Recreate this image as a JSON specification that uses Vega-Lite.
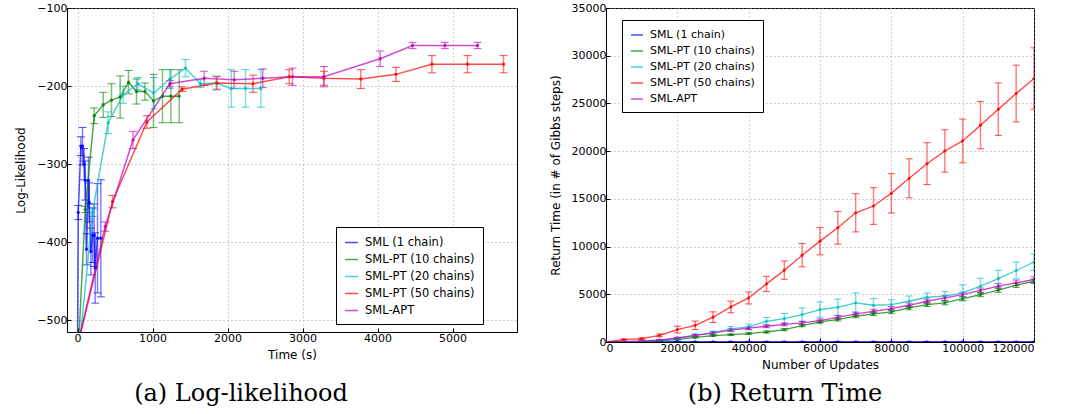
{
  "$schema": "https://vega.github.io/schema/vega-lite/v6.json",
  "padding": {"left": 14, "top": 1, "right": 5, "bottom": 2},
  "spacing": 30,
  "background": "white",
  "datasets": {
    "ll": [
      {"series": "SML (1 chain)", "time": 0, "loglik": -540, "err": 0},
      {"series": "SML (1 chain)", "time": 10, "loglik": -362, "err": 9},
      {"series": "SML (1 chain)", "time": 45, "loglik": -277, "err": 12},
      {"series": "SML (1 chain)", "time": 67, "loglik": -277, "err": 24},
      {"series": "SML (1 chain)", "time": 89, "loglik": -300, "err": 20},
      {"series": "SML (1 chain)", "time": 103, "loglik": -321, "err": 25},
      {"series": "SML (1 chain)", "time": 120, "loglik": -409, "err": 20},
      {"series": "SML (1 chain)", "time": 147, "loglik": -321, "err": 30},
      {"series": "SML (1 chain)", "time": 156, "loglik": -349, "err": 25},
      {"series": "SML (1 chain)", "time": 178, "loglik": -412, "err": 30},
      {"series": "SML (1 chain)", "time": 200, "loglik": -391, "err": 35},
      {"series": "SML (1 chain)", "time": 222, "loglik": -391, "err": 40},
      {"series": "SML (1 chain)", "time": 236, "loglik": -433, "err": 45},
      {"series": "SML (1 chain)", "time": 267, "loglik": -395, "err": 70},
      {"series": "SML (1 chain)", "time": 311, "loglik": -395, "err": 75},
      {"series": "SML-PT (10 chains)", "time": 0, "loglik": -560, "err": 0},
      {"series": "SML-PT (10 chains)", "time": 103, "loglik": -358, "err": 4},
      {"series": "SML-PT (10 chains)", "time": 223, "loglik": -238, "err": 10},
      {"series": "SML-PT (10 chains)", "time": 343, "loglik": -224, "err": 16},
      {"series": "SML-PT (10 chains)", "time": 453, "loglik": -218, "err": 21},
      {"series": "SML-PT (10 chains)", "time": 569, "loglik": -214, "err": 27},
      {"series": "SML-PT (10 chains)", "time": 680, "loglik": -195, "err": 15},
      {"series": "SML-PT (10 chains)", "time": 787, "loglik": -207, "err": 16},
      {"series": "SML-PT (10 chains)", "time": 899, "loglik": -207, "err": 11},
      {"series": "SML-PT (10 chains)", "time": 1013, "loglik": -219, "err": 34},
      {"series": "SML-PT (10 chains)", "time": 1133, "loglik": -213, "err": 34},
      {"series": "SML-PT (10 chains)", "time": 1245, "loglik": -213, "err": 34},
      {"series": "SML-PT (10 chains)", "time": 1356, "loglik": -213, "err": 34},
      {"series": "SML-PT (20 chains)", "time": 0, "loglik": -560, "err": 0},
      {"series": "SML-PT (20 chains)", "time": 200, "loglik": -362, "err": 5},
      {"series": "SML-PT (20 chains)", "time": 409, "loglik": -247, "err": 14},
      {"series": "SML-PT (20 chains)", "time": 609, "loglik": -211, "err": 11},
      {"series": "SML-PT (20 chains)", "time": 806, "loglik": -197, "err": 8},
      {"series": "SML-PT (20 chains)", "time": 1018, "loglik": -209, "err": 20},
      {"series": "SML-PT (20 chains)", "time": 1231, "loglik": -191, "err": 12},
      {"series": "SML-PT (20 chains)", "time": 1440, "loglik": -177, "err": 11},
      {"series": "SML-PT (20 chains)", "time": 1640, "loglik": -197, "err": 5},
      {"series": "SML-PT (20 chains)", "time": 1850, "loglik": -196, "err": 9},
      {"series": "SML-PT (20 chains)", "time": 2050, "loglik": -203, "err": 24},
      {"series": "SML-PT (20 chains)", "time": 2240, "loglik": -203, "err": 24},
      {"series": "SML-PT (20 chains)", "time": 2445, "loglik": -203, "err": 24},
      {"series": "SML-PT (50 chains)", "time": 0, "loglik": -533, "err": 0},
      {"series": "SML-PT (50 chains)", "time": 467, "loglik": -348, "err": 8},
      {"series": "SML-PT (50 chains)", "time": 925, "loglik": -246, "err": 8},
      {"series": "SML-PT (50 chains)", "time": 1395, "loglik": -204, "err": 3},
      {"series": "SML-PT (50 chains)", "time": 1860, "loglik": -196, "err": 8},
      {"series": "SML-PT (50 chains)", "time": 2340, "loglik": -197, "err": 11},
      {"series": "SML-PT (50 chains)", "time": 2823, "loglik": -188, "err": 9},
      {"series": "SML-PT (50 chains)", "time": 3285, "loglik": -190, "err": 9},
      {"series": "SML-PT (50 chains)", "time": 3778, "loglik": -191, "err": 12},
      {"series": "SML-PT (50 chains)", "time": 4245, "loglik": -185, "err": 9},
      {"series": "SML-PT (50 chains)", "time": 4725, "loglik": -172, "err": 11},
      {"series": "SML-PT (50 chains)", "time": 5200, "loglik": -172, "err": 11},
      {"series": "SML-PT (50 chains)", "time": 5680, "loglik": -172, "err": 11},
      {"series": "SML-APT", "time": 0, "loglik": -532, "err": 0},
      {"series": "SML-APT", "time": 369, "loglik": -380, "err": 6},
      {"series": "SML-APT", "time": 740, "loglik": -269, "err": 11},
      {"series": "SML-APT", "time": 1231, "loglik": -197, "err": 4},
      {"series": "SML-APT", "time": 1689, "loglik": -190, "err": 9},
      {"series": "SML-APT", "time": 2089, "loglik": -192, "err": 11},
      {"series": "SML-APT", "time": 2470, "loglik": -190, "err": 12},
      {"series": "SML-APT", "time": 2867, "loglik": -188, "err": 11},
      {"series": "SML-APT", "time": 3285, "loglik": -188, "err": 13},
      {"series": "SML-APT", "time": 4036, "loglik": -165, "err": 10},
      {"series": "SML-APT", "time": 4467, "loglik": -148, "err": 4},
      {"series": "SML-APT", "time": 4898, "loglik": -148, "err": 4},
      {"series": "SML-APT", "time": 5333, "loglik": -148, "err": 4}
    ],
    "rt": [
      {"series": "SML (1 chain)", "updates": 0, "rt": 0, "err": 0},
      {"series": "SML (1 chain)", "updates": 5000, "rt": 30, "err": 10},
      {"series": "SML (1 chain)", "updates": 10000, "rt": 30, "err": 10},
      {"series": "SML (1 chain)", "updates": 15000, "rt": 30, "err": 10},
      {"series": "SML (1 chain)", "updates": 20000, "rt": 30, "err": 10},
      {"series": "SML (1 chain)", "updates": 25000, "rt": 30, "err": 10},
      {"series": "SML (1 chain)", "updates": 30000, "rt": 30, "err": 10},
      {"series": "SML (1 chain)", "updates": 35000, "rt": 30, "err": 10},
      {"series": "SML (1 chain)", "updates": 40000, "rt": 30, "err": 10},
      {"series": "SML (1 chain)", "updates": 45000, "rt": 30, "err": 10},
      {"series": "SML (1 chain)", "updates": 50000, "rt": 30, "err": 10},
      {"series": "SML (1 chain)", "updates": 55000, "rt": 30, "err": 10},
      {"series": "SML (1 chain)", "updates": 60000, "rt": 30, "err": 10},
      {"series": "SML (1 chain)", "updates": 65000, "rt": 30, "err": 10},
      {"series": "SML (1 chain)", "updates": 70000, "rt": 30, "err": 10},
      {"series": "SML (1 chain)", "updates": 75000, "rt": 30, "err": 10},
      {"series": "SML (1 chain)", "updates": 80000, "rt": 30, "err": 10},
      {"series": "SML (1 chain)", "updates": 85000, "rt": 30, "err": 10},
      {"series": "SML (1 chain)", "updates": 90000, "rt": 30, "err": 10},
      {"series": "SML (1 chain)", "updates": 95000, "rt": 30, "err": 10},
      {"series": "SML (1 chain)", "updates": 100000, "rt": 30, "err": 10},
      {"series": "SML (1 chain)", "updates": 105000, "rt": 30, "err": 10},
      {"series": "SML (1 chain)", "updates": 110000, "rt": 30, "err": 10},
      {"series": "SML (1 chain)", "updates": 115000, "rt": 30, "err": 10},
      {"series": "SML (1 chain)", "updates": 120000, "rt": 30, "err": 10},
      {"series": "SML-PT (10 chains)", "updates": 0, "rt": 0, "err": 0},
      {"series": "SML-PT (10 chains)", "updates": 5000, "rt": 20, "err": 10},
      {"series": "SML-PT (10 chains)", "updates": 10000, "rt": 50, "err": 20},
      {"series": "SML-PT (10 chains)", "updates": 15000, "rt": 120, "err": 30},
      {"series": "SML-PT (10 chains)", "updates": 20000, "rt": 250, "err": 50},
      {"series": "SML-PT (10 chains)", "updates": 25000, "rt": 490, "err": 70},
      {"series": "SML-PT (10 chains)", "updates": 30000, "rt": 670, "err": 80},
      {"series": "SML-PT (10 chains)", "updates": 35000, "rt": 770, "err": 90},
      {"series": "SML-PT (10 chains)", "updates": 40000, "rt": 880, "err": 100},
      {"series": "SML-PT (10 chains)", "updates": 45000, "rt": 1050, "err": 110},
      {"series": "SML-PT (10 chains)", "updates": 50000, "rt": 1300, "err": 120},
      {"series": "SML-PT (10 chains)", "updates": 55000, "rt": 1720, "err": 130},
      {"series": "SML-PT (10 chains)", "updates": 60000, "rt": 2100, "err": 140},
      {"series": "SML-PT (10 chains)", "updates": 65000, "rt": 2350, "err": 150},
      {"series": "SML-PT (10 chains)", "updates": 70000, "rt": 2700, "err": 160},
      {"series": "SML-PT (10 chains)", "updates": 75000, "rt": 2940, "err": 170},
      {"series": "SML-PT (10 chains)", "updates": 80000, "rt": 3150, "err": 180},
      {"series": "SML-PT (10 chains)", "updates": 85000, "rt": 3570, "err": 190},
      {"series": "SML-PT (10 chains)", "updates": 90000, "rt": 3920, "err": 200},
      {"series": "SML-PT (10 chains)", "updates": 95000, "rt": 4100, "err": 200},
      {"series": "SML-PT (10 chains)", "updates": 100000, "rt": 4550, "err": 210},
      {"series": "SML-PT (10 chains)", "updates": 105000, "rt": 4970, "err": 220},
      {"series": "SML-PT (10 chains)", "updates": 110000, "rt": 5430, "err": 230},
      {"series": "SML-PT (10 chains)", "updates": 115000, "rt": 5950, "err": 240},
      {"series": "SML-PT (10 chains)", "updates": 120000, "rt": 6370, "err": 250},
      {"series": "SML-PT (20 chains)", "updates": 0, "rt": 0, "err": 0},
      {"series": "SML-PT (20 chains)", "updates": 5000, "rt": 40, "err": 20},
      {"series": "SML-PT (20 chains)", "updates": 10000, "rt": 90, "err": 30},
      {"series": "SML-PT (20 chains)", "updates": 15000, "rt": 200, "err": 60},
      {"series": "SML-PT (20 chains)", "updates": 20000, "rt": 380, "err": 100},
      {"series": "SML-PT (20 chains)", "updates": 25000, "rt": 700, "err": 150},
      {"series": "SML-PT (20 chains)", "updates": 30000, "rt": 950, "err": 200},
      {"series": "SML-PT (20 chains)", "updates": 35000, "rt": 1370, "err": 250},
      {"series": "SML-PT (20 chains)", "updates": 40000, "rt": 1580, "err": 300},
      {"series": "SML-PT (20 chains)", "updates": 45000, "rt": 2170, "err": 400},
      {"series": "SML-PT (20 chains)", "updates": 50000, "rt": 2450, "err": 550},
      {"series": "SML-PT (20 chains)", "updates": 55000, "rt": 2870, "err": 700},
      {"series": "SML-PT (20 chains)", "updates": 60000, "rt": 3400, "err": 800},
      {"series": "SML-PT (20 chains)", "updates": 65000, "rt": 3640, "err": 850},
      {"series": "SML-PT (20 chains)", "updates": 70000, "rt": 4100, "err": 1050},
      {"series": "SML-PT (20 chains)", "updates": 75000, "rt": 3850, "err": 700},
      {"series": "SML-PT (20 chains)", "updates": 80000, "rt": 3920, "err": 500},
      {"series": "SML-PT (20 chains)", "updates": 85000, "rt": 4270, "err": 550},
      {"series": "SML-PT (20 chains)", "updates": 90000, "rt": 4690, "err": 450},
      {"series": "SML-PT (20 chains)", "updates": 95000, "rt": 4800, "err": 500},
      {"series": "SML-PT (20 chains)", "updates": 100000, "rt": 5150, "err": 840},
      {"series": "SML-PT (20 chains)", "updates": 105000, "rt": 5850, "err": 840},
      {"series": "SML-PT (20 chains)", "updates": 110000, "rt": 6650, "err": 870},
      {"series": "SML-PT (20 chains)", "updates": 115000, "rt": 7490, "err": 870},
      {"series": "SML-PT (20 chains)", "updates": 120000, "rt": 8370, "err": 870},
      {"series": "SML-PT (50 chains)", "updates": 0, "rt": 0, "err": 0},
      {"series": "SML-PT (50 chains)", "updates": 5000, "rt": 250, "err": 60},
      {"series": "SML-PT (50 chains)", "updates": 10000, "rt": 350, "err": 80},
      {"series": "SML-PT (50 chains)", "updates": 15000, "rt": 700, "err": 150},
      {"series": "SML-PT (50 chains)", "updates": 20000, "rt": 1300, "err": 350},
      {"series": "SML-PT (50 chains)", "updates": 25000, "rt": 1750, "err": 440},
      {"series": "SML-PT (50 chains)", "updates": 30000, "rt": 2600, "err": 560},
      {"series": "SML-PT (50 chains)", "updates": 35000, "rt": 3680, "err": 610},
      {"series": "SML-PT (50 chains)", "updates": 40000, "rt": 4620, "err": 630},
      {"series": "SML-PT (50 chains)", "updates": 45000, "rt": 6090, "err": 790},
      {"series": "SML-PT (50 chains)", "updates": 50000, "rt": 7530, "err": 960},
      {"series": "SML-PT (50 chains)", "updates": 55000, "rt": 9100, "err": 1220},
      {"series": "SML-PT (50 chains)", "updates": 60000, "rt": 10570, "err": 1440},
      {"series": "SML-PT (50 chains)", "updates": 65000, "rt": 11970, "err": 1710},
      {"series": "SML-PT (50 chains)", "updates": 70000, "rt": 13540, "err": 2000},
      {"series": "SML-PT (50 chains)", "updates": 75000, "rt": 14250, "err": 1920},
      {"series": "SML-PT (50 chains)", "updates": 80000, "rt": 15580, "err": 2060},
      {"series": "SML-PT (50 chains)", "updates": 85000, "rt": 17150, "err": 2050},
      {"series": "SML-PT (50 chains)", "updates": 90000, "rt": 18690, "err": 2190},
      {"series": "SML-PT (50 chains)", "updates": 95000, "rt": 20020, "err": 2220},
      {"series": "SML-PT (50 chains)", "updates": 100000, "rt": 21070, "err": 2290},
      {"series": "SML-PT (50 chains)", "updates": 105000, "rt": 22720, "err": 2480},
      {"series": "SML-PT (50 chains)", "updates": 110000, "rt": 24400, "err": 2750},
      {"series": "SML-PT (50 chains)", "updates": 115000, "rt": 26040, "err": 2970},
      {"series": "SML-PT (50 chains)", "updates": 120000, "rt": 27610, "err": 3220},
      {"series": "SML-APT", "updates": 0, "rt": 0, "err": 0},
      {"series": "SML-APT", "updates": 5000, "rt": 30, "err": 20},
      {"series": "SML-APT", "updates": 10000, "rt": 80, "err": 30},
      {"series": "SML-APT", "updates": 15000, "rt": 200, "err": 50},
      {"series": "SML-APT", "updates": 20000, "rt": 420, "err": 80},
      {"series": "SML-APT", "updates": 25000, "rt": 700, "err": 100},
      {"series": "SML-APT", "updates": 30000, "rt": 950, "err": 120},
      {"series": "SML-APT", "updates": 35000, "rt": 1250, "err": 130},
      {"series": "SML-APT", "updates": 40000, "rt": 1450, "err": 140},
      {"series": "SML-APT", "updates": 45000, "rt": 1650, "err": 150},
      {"series": "SML-APT", "updates": 50000, "rt": 1850, "err": 160},
      {"series": "SML-APT", "updates": 55000, "rt": 2000, "err": 170},
      {"series": "SML-APT", "updates": 60000, "rt": 2240, "err": 180},
      {"series": "SML-APT", "updates": 65000, "rt": 2590, "err": 190},
      {"series": "SML-APT", "updates": 70000, "rt": 2940, "err": 200},
      {"series": "SML-APT", "updates": 75000, "rt": 3220, "err": 200},
      {"series": "SML-APT", "updates": 80000, "rt": 3500, "err": 210},
      {"series": "SML-APT", "updates": 85000, "rt": 3850, "err": 220},
      {"series": "SML-APT", "updates": 90000, "rt": 4270, "err": 230},
      {"series": "SML-APT", "updates": 95000, "rt": 4620, "err": 240},
      {"series": "SML-APT", "updates": 100000, "rt": 4970, "err": 250},
      {"series": "SML-APT", "updates": 105000, "rt": 5400, "err": 260},
      {"series": "SML-APT", "updates": 110000, "rt": 5850, "err": 270},
      {"series": "SML-APT", "updates": 115000, "rt": 6200, "err": 280},
      {"series": "SML-APT", "updates": 120000, "rt": 6550, "err": 300}
    ]
  },
  "resolve": {"scale": {"color": "independent"}},
  "hconcat": [
    {
      "width": 450,
      "height": 324,
      "data": {"name": "ll"},
      "title": {"text": "(a) Log-likelihood", "orient": "bottom", "font": "DejaVu Serif", "fontSize": 24, "fontWeight": "normal", "color": "black", "dx": -51, "offset": 22},
      "encoding": {
        "x": {"field": "time", "type": "quantitative", "scale": {"domain": [-140, 5860], "nice": false, "zero": false}, "axis": {"title": "Time (s)", "values": [0, 1000, 2000, 3000, 4000, 5000], "format": "d"}},
        "y": {"field": "loglik", "type": "quantitative", "scale": {"domain": [-515, -100], "nice": false, "zero": false}, "axis": {"title": "Log-Likelihood", "values": [-500, -400, -300, -200, -100], "format": "d"}},
        "color": {
          "field": "series", "type": "nominal",
          "scale": {"domain": ["SML (1 chain)", "SML-PT (10 chains)", "SML-PT (20 chains)", "SML-PT (50 chains)", "SML-APT"], "range": ["#0000ff", "#008000", "#00bfbf", "#ff0000", "#bf00bf"]},
          "legend": {"orient": "none", "legendX": 269, "legendY": 219, "title": null, "labelFontSize": 11.5, "symbolSize": 169}
        }
      },
      "layer": [
        {"mark": {"type": "errorbar", "ticks": {"size": 8}, "clip": true, "rule": {"opacity": 0.5, "strokeWidth": 1.5}}, "encoding": {"yError": {"field": "err"}}},
        {"mark": {"type": "line", "clip": true, "strokeWidth": 1.5, "opacity": 0.7, "point": {"filled": true, "size": 12, "opacity": 0.8}}}
      ]
    },
    {
      "width": 428,
      "height": 334,
      "data": {"name": "rt"},
      "title": {"text": "(b) Return Time", "orient": "bottom", "font": "DejaVu Serif", "fontSize": 24, "fontWeight": "normal", "color": "black", "dx": -35, "offset": 12},
      "encoding": {
        "x": {"field": "updates", "type": "quantitative", "scale": {"domain": [0, 120000], "nice": false}, "axis": {"title": "Number of Updates", "values": [0, 20000, 40000, 60000, 80000, 100000, 120000], "format": "d"}},
        "y": {"field": "rt", "type": "quantitative", "scale": {"domain": [0, 35000], "nice": false}, "axis": {"title": "Return Time (in # of Gibbs steps)", "values": [0, 5000, 10000, 15000, 20000, 25000, 30000, 35000], "format": "d"}},
        "color": {
          "field": "series", "type": "nominal",
          "scale": {"domain": ["SML (1 chain)", "SML-PT (10 chains)", "SML-PT (20 chains)", "SML-PT (50 chains)", "SML-APT"], "range": ["#0000ff", "#008000", "#00bfbf", "#ff0000", "#bf00bf"]},
          "legend": {"orient": "none", "legendX": 16, "legendY": 12, "title": null, "labelFontSize": 11, "symbolSize": 144}
        }
      },
      "layer": [
        {"mark": {"type": "errorbar", "ticks": {"size": 7}, "clip": true, "rule": {"opacity": 0.5, "strokeWidth": 1.5}}, "encoding": {"yError": {"field": "err"}}},
        {"mark": {"type": "line", "clip": true, "strokeWidth": 1.3, "opacity": 0.75, "point": {"filled": true, "size": 10, "opacity": 0.8}}}
      ]
    }
  ],
  "config": {
    "font": "DejaVu Sans",
    "view": {"stroke": "black", "strokeWidth": 1},
    "axis": {
      "labelFont": "DejaVu Sans", "labelFontSize": 11, "labelColor": "black",
      "titleFont": "DejaVu Sans", "titleFontSize": 12, "titleFontWeight": "normal", "titleColor": "black",
      "domainColor": "black", "domainWidth": 1,
      "tickColor": "black", "tickSize": -4,
      "grid": true, "gridColor": "#a0a0a0", "gridDash": [1, 3], "gridWidth": 1,
      "labelPadding": 4
    },
    "axisY": {"titlePadding": 9},
    "axisX": {"titlePadding": 6},
    "legend": {
      "labelFont": "DejaVu Sans", "labelColor": "black",
      "strokeColor": "black", "fillColor": "white", "padding": 8, "cornerRadius": 0,
      "symbolType": "stroke", "symbolStrokeWidth": 1.5, "labelOffset": 6, "rowPadding": 4
    }
  }
}
